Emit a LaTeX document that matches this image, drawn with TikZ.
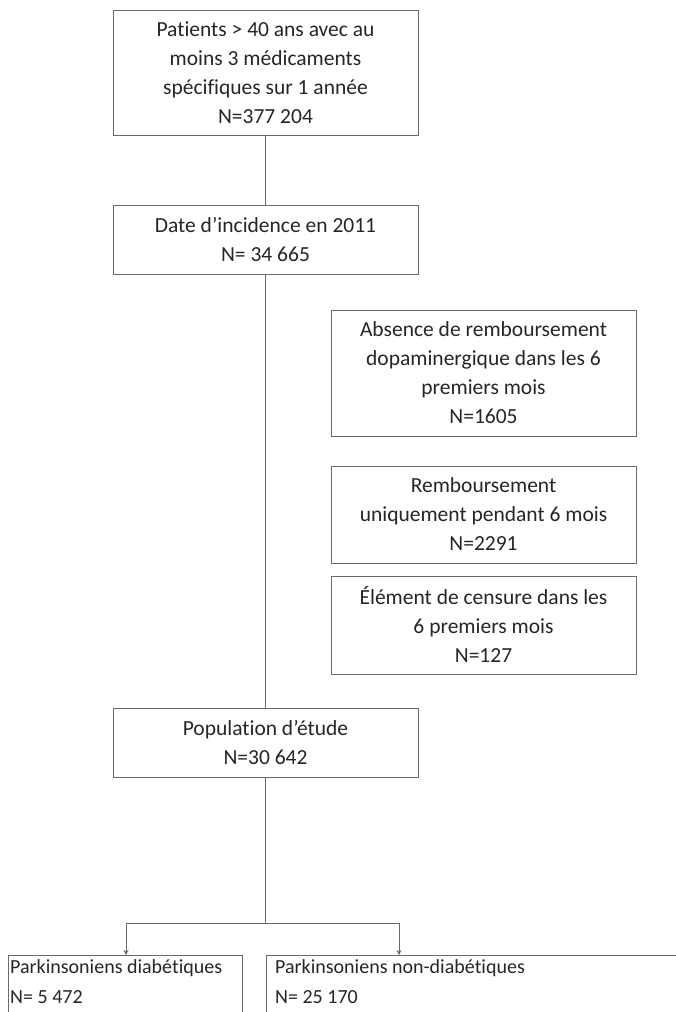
\documentclass[tikz,border=0pt]{standalone}
\usepackage{fontspec}
\setmainfont{Carlito}[Ligatures=NoCommon]
\usetikzlibrary{arrows.meta}
\definecolor{linec}{HTML}{6A6A6A}
\definecolor{textc}{HTML}{262626}
\begin{document}
\begin{tikzpicture}[x=1pt,y=-1pt,
  box/.style={draw=linec,line width=1pt,minimum width=305pt,inner sep=0pt,
    text=textc,align=center,font=\fontsize{21.5}{29}\selectfont},
  conn/.style={draw=linec,line width=1pt},
  arr/.style={conn,-{Stealth[length=5pt,width=5pt]}},
  lab/.style={text=textc,anchor=base west,inner sep=0pt,font=\fontsize{20}{29}\selectfont}]
\clip (0,0) rectangle (676,1012);
\fill[white] (0,0) rectangle (676,1012);
\node[box,minimum height=125pt] (b1) at (265.5,72.5) {Patients > 40 ans avec au\\moins 3 médicaments\\spécifiques sur 1 année\\N=377 204};
\node[box,minimum height=69pt] (b2) at (265.5,239.5) {Date d’incidence en 2011\\N= 34 665};
\node[box,minimum height=126pt] (b3) at (483.5,373) {Absence de remboursement\\dopaminergique dans les 6\\premiers mois\\N=1605};
\node[box,minimum height=97pt] (b4) at (483.5,514.5) {Remboursement\\uniquement pendant 6 mois\\N=2291};
\node[box,minimum height=98pt] (b5) at (483.5,625) {Élément de censure dans les\\6 premiers mois\\N=127};
\node[box,minimum height=69pt] (b6) at (265.5,742.5) {Population d’étude\\N=30 642};
\node[box,minimum width=234pt,minimum height=80pt,anchor=north west] (b7) at (8,955) {};
\node[box,minimum width=420pt,minimum height=80pt,anchor=north west] (b8) at (266,955) {};
\node[lab] (t7) at (10,973) {Parkinsoniens diabétiques};
\node[lab] (t7b) at (10,1003) {N= 5 472};
\node[lab] (t8) at (275,973) {Parkinsoniens non-diabétiques};
\node[lab] (t8b) at (275,1003) {N= 25 170};
\coordinate (split) at (265.5,923);
\coordinate (splitl) at (126,923);
\coordinate (splitr) at (399,923);
\draw[conn] (b1.south) -- (b2.north);
\draw[conn] (b2.south) -- (b6.north);
\draw[conn] (b6.south) -- (split);
\draw[conn] (splitl) -- (splitr);
\draw[arr] (splitl) -- (splitl |- b7.north);
\draw[arr] (splitr) -- (splitr |- b8.north);
\end{tikzpicture}
\end{document}
